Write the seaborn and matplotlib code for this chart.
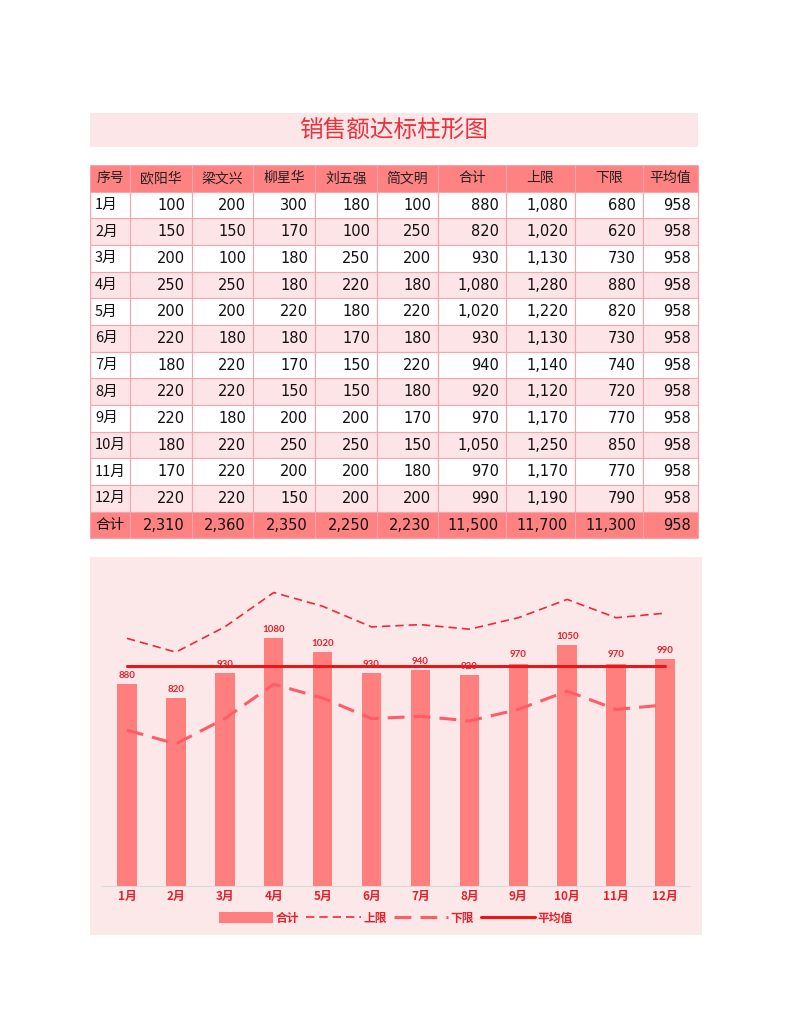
import numpy as np
import pandas as pd
import seaborn as sns
import matplotlib.pyplot as plt
from matplotlib.patches import Rectangle

# data
months = ["1月", "2月", "3月", "4月", "5月", "6月", "7月", "8月", "9月", "10月", "11月", "12月"]
ouyanghua = [100, 150, 200, 250, 200, 220, 180, 220, 220, 180, 170, 220]
liangwenxing = [200, 150, 100, 250, 200, 180, 220, 220, 180, 220, 220, 220]
liuxinghua = [300, 170, 180, 180, 220, 180, 170, 150, 200, 250, 200, 150]
liuwuqiang = [180, 100, 250, 220, 180, 170, 150, 150, 200, 250, 200, 200]
jianwenming = [100, 250, 200, 180, 220, 180, 220, 180, 170, 150, 180, 200]
total = [880, 820, 930, 1080, 1020, 930, 940, 920, 970, 1050, 970, 990]
upper = [1080, 1020, 1130, 1280, 1220, 1130, 1140, 1120, 1170, 1250, 1170, 1190]
lower = [680, 620, 730, 880, 820, 730, 740, 720, 770, 850, 770, 790]
average = [958, 958, 958, 958, 958, 958, 958, 958, 958, 958, 958, 958]
col_totals = [2310, 2360, 2350, 2250, 2230, 11500, 11700, 11300, 958]
header = ["序号", "欧阳华", "梁文兴", "柳星华", "刘五强", "简文明", "合计", "上限", "下限", "平均值"]

df = pd.DataFrame({
    "序号": months, "欧阳华": ouyanghua, "梁文兴": liangwenxing, "柳星华": liuxinghua,
    "刘五强": liuwuqiang, "简文明": jianwenming, "合计": total, "上限": upper,
    "下限": lower, "平均值": average,
})

sns.set_theme(style="white")
plt.rcParams['font.family'] = ['Noto Sans CJK SC', 'DejaVu Sans']

fig = plt.figure(figsize=(7.94, 10.25), dpi=100)
fig.patch.set_facecolor("white")

# background layer in pixel coords
bg = fig.add_axes([0, 0, 1, 1])
bg.set_xlim(0, 794)
bg.set_ylim(1025, 0)
bg.axis("off")

# title banner
bg.add_patch(Rectangle((90, 113), 608, 34, facecolor="#fde6e8", edgecolor="none"))
bg.text(394, 131, "销售额达标柱形图", ha="center", va="center", fontsize=17,
        color="#e8323c", fontweight="light")

# table
xs = [90, 130, 192, 253, 315, 377, 438, 506, 575, 643, 698]
row_h = 26.67
top = 165
border = "#f3a6ad"
rows = len(df) + 2
for r in range(rows):
    y0 = top + r * row_h
    if r == 0 or r == rows - 1:
        fill = "#ff8282"
    elif r % 2 == 0:
        fill = "#fde4e7"
    else:
        fill = "white"
    for c in range(len(xs) - 1):
        bg.add_patch(Rectangle((xs[c], y0), xs[c + 1] - xs[c], row_h,
                               facecolor=fill, edgecolor=border, lw=0.8))

for c, name in enumerate(header):
    bg.text((xs[c] + xs[c + 1]) / 2, top + row_h / 2, name, ha="center", va="center",
            fontsize=10, color="#222222")

for i, row in df.iterrows():
    yc = top + (i + 1) * row_h + row_h / 2
    bg.text(95, yc, row["序号"], ha="left", va="center", fontsize=10.5, color="#111111")
    for c, name in enumerate(header[1:], start=1):
        bg.text(xs[c + 1] - 7, yc, f"{row[name]:,}", ha="right", va="center",
                fontsize=10.5, color="#111111", family="DejaVu Sans")

yc = top + (rows - 1) * row_h + row_h / 2
bg.text(95, yc, "合计", ha="left", va="center", fontsize=10.5, color="#111111")
for c, v in enumerate(col_totals, start=1):
    bg.text(xs[c + 1] - 7, yc, f"{v:,}", ha="right", va="center",
            fontsize=10.5, color="#111111", family="DejaVu Sans")

# chart panel
bg.add_patch(Rectangle((90, 557), 612, 378, facecolor="#fde8e9", edgecolor="none"))

ax = fig.add_axes([102.5 / 794, (1025 - 886) / 1025, 587 / 794, 321 / 1025])
ax.patch.set_alpha(0)

sns.barplot(x=months, y=total, color="#ff7f7f", saturation=1, width=0.4,
            linewidth=0, edgecolor="none", label="合计", ax=ax)
pos = np.arange(len(months))
sns.lineplot(x=pos, y=upper, color="#f0283c", lw=1.2, linestyle=(0, (5, 3)),
             label="上限", ax=ax)
sns.lineplot(x=pos, y=lower, color="#ff5c68", lw=2.2, linestyle=(0, (5.5, 3)),
             label="下限", ax=ax)
sns.lineplot(x=pos, y=average, color="#ee1414", lw=2.2, label="平均值", ax=ax)

ax.bar_label(ax.containers[0], padding=3, fontsize=7, color="#e8202a",
             fontweight="bold", family="Lato")

ax.set_xlim(-0.5, 11.5)
ax.set_ylim(0, 1400)
ax.set_yticks([])
ax.set_xlabel("")
ax.set_ylabel("")
for s in ["top", "left", "right"]:
    ax.spines[s].set_visible(False)
ax.spines["bottom"].set_color("#d8d8d8")
ax.spines["bottom"].set_linewidth(0.8)
ax.tick_params(axis="x", length=0, pad=3)
for lbl in ax.get_xticklabels():
    lbl.set_color("#e8202a")
    lbl.set_fontweight("bold")
    lbl.set_fontsize(8.5)

handles, labels = ax.get_legend_handles_labels()
lookup = dict(zip(labels, handles))
order = ["合计", "上限", "下限", "平均值"]
leg = ax.legend([lookup[k] for k in order], order, loc="center", bbox_to_anchor=(0.5, -0.1),
                ncol=4, frameon=False, handlelength=4.6, handletextpad=0.2,
                columnspacing=0.6, handleheight=1.0, prop={"weight": "bold", "size": 8.5})
for t in leg.get_texts():
    t.set_color("#e8202a")

fig.savefig("out.png", dpi=100)
